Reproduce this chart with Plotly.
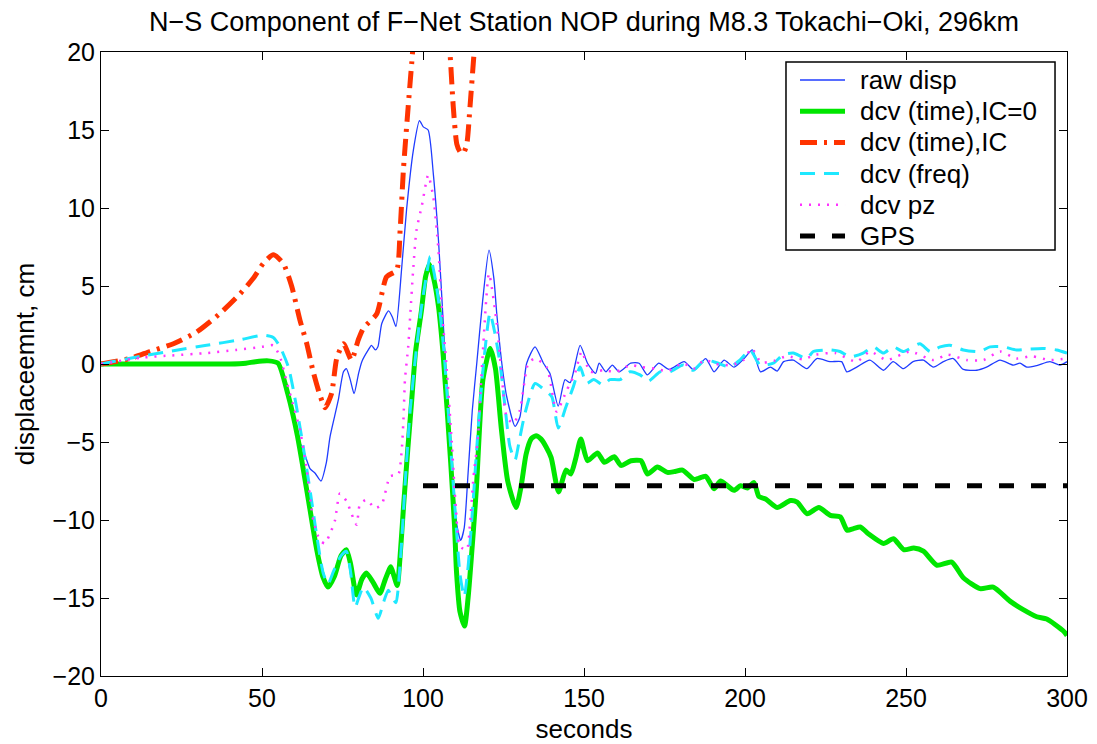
import plotly.graph_objects as go

# ---- data (seconds, displacement cm) ----
RAW_DISP = [(0,0),(20,0),(40,0),(50,0.15),(53,0.2),(55,0.0),(57,-1.0),(59,-2.8),(60.8,-4.6),(62.8,-5.5),
            (64.9,-6.7),(66.5,-7.0),(68.3,-7.5),(70,-6.3),(71.1,-4.7),(72.5,-3.4),(73.7,-2.3),(75.3,-0.5),
            (76.2,-0.3),(77.4,-1.0),(78.6,-1.9),(80,-0.6),(81,0.15),(83,0.9),(84,1.2),(85.2,0.9),(86,1.1),
            (87.2,2.6),(89.3,3.4),(90.5,3.0),(91.6,2.4),(93.4,6.2),(94.9,9.9),(97,13.7),(98.9,15.6),
            (100.1,15.2),(101.6,15.0),(103.2,12.2),(104.8,7.95),(106.3,2.6),(107.8,-3.0),(109.3,-7.5),
            (110.5,-10.3),(111.7,-11.3),(112.8,-10.5),(114,-7.0),(115.3,-3.0),(116.7,0.05),(118.5,4.0),
            (120.5,7.3),(122,5.5),(122.9,3.25),(124.5,0.0),(126,-2.1),(128.6,-4.0),(130.1,-3.4),(132.2,0.05),
            (134.8,1.1),(137.4,0.05),(139.4,-0.6),(142,-2.7),(144.1,-1.0),(145.7,-1.2),(148.8,1.2),(151.1,0.05),
            (153.6,-0.6),(154.7,0.05),(156.8,-0.5),(158.8,-0.07),(160.9,-0.5),(164.5,0.05),(167.1,0.05),
            (169.7,-0.7),(173.2,0.05),(176.4,-0.35),(181.1,0.15),(184.2,-0.4),(187.8,0.35),(190.4,-0.5),
            (193.5,0.25),(196.6,-0.2),(199.7,0.35),(202.3,0.9),(204.8,-0.5),(207.9,-0.2),(210,-0.45),(212,0.15),
            (215,0.25),(219.2,-0.3),(222.3,0.35),(226.4,0.15),(230,0.15),(231.6,-0.5),(234.7,-0.2),(238.8,0.25),
            (243,-0.4),(246,0.15),(249.2,-0.3),(252.2,0.15),(255.4,0.25),(258.5,-0.2),(261.6,0.15),(264.7,0.35),
            (267.8,-0.35),(272,-0.4),(275,-0.2),(279.2,0.25),(283.3,-0.07),(285.4,0.05),(287.5,-0.2),(290.6,-0.1),
            (294.7,0.15),(297.8,-0.07),(300,0.15)]

DCV_TIME_IC0 = [(0,0),(10,0),(20,0),(30,0),(40,0),(45,0.05),(48,0.15),(52,0.2),(55,0.05),(58,-1.9),(61,-4.6),
                (64.4,-8.7),(67,-11.9),(69,-13.7),(70.5,-14.3),(72.5,-13.6),(74.5,-12.3),(76.2,-11.9),(77.5,-12.8),
                (79.3,-14.8),(81,-13.8),(82.4,-13.4),(84.5,-14.0),(86.6,-14.7),(88.3,-13.8),(90,-13.0),(91,-13.6),
                (92,-14.2),(93,-12.0),(94,-9.0),(95.3,-5.4),(96.5,-2.3),(97.7,0.8),(99.5,3.4),(100.8,5.6),(102,6.4),
                (103.3,5.5),(104.8,3.7),(106.3,0.5),(108.6,-6.3),(109.8,-10.4),(110.4,-13.3),(111.5,-15.9),(112.9,-16.8),
                (114,-15.0),(115.5,-11.1),(116.6,-7.9),(118.6,-1.0),(120.9,1.0),(122.5,-0.3),(124.3,-4.1),(126.3,-7.5),
                (128.9,-9.2),(130.5,-7.8),(132,-5.8),(133.6,-4.8),(135.1,-4.6),(136.6,-4.8),(138.2,-5.3),(139.8,-6.0),
                (142.1,-8.2),(144.4,-6.8),(145.9,-7.05),(147.5,-6.0),(149,-4.8),(151.1,-6.2),(154.2,-5.7),(156.3,-6.3),
                (159.4,-5.95),(161.5,-6.5),(164.6,-6.2),(167.7,-6.2),(169.7,-7.05),(172.8,-6.6),(175.9,-6.95),(178,-6.9),
                (180.6,-6.8),(184.2,-7.4),(187.8,-7.2),(190.4,-8.0),(192.4,-7.5),(196.6,-8.1),(198.6,-7.8),(200.7,-7.95),
                (202.8,-7.6),(204.3,-8.5),(206.4,-8.65),(210,-9.2),(214.1,-8.75),(216.2,-8.85),(219.3,-9.6),(222.9,-9.2),
                (226.5,-9.7),(229.6,-9.8),(231.7,-10.65),(233.7,-10.55),(235.8,-10.45),(238.4,-10.9),(243,-11.5),
                (246.1,-11.2),(249.3,-11.9),(252.4,-11.8),(255.4,-12.0),(259.6,-12.9),(264.2,-12.7),(267.8,-13.7),
                (273,-14.4),(277.1,-14.3),(282.3,-15.2),(286.4,-15.75),(290.6,-16.2),(293.7,-16.35),(298.8,-17.1),(300,-17.4)]

DCV_TIME_IC = [(0,0),(9,0.35),(15.2,0.8),(22.5,1.3),(29.7,2.05),(37,3.25),(43.2,4.5),(47.3,5.5),(50.4,6.45),
               (53.5,7.0),(56.6,6.45),(59.2,5.0),(61.8,2.8),(63.9,1.3),(65.9,-0.5),(68,-2.0),(69.6,-2.8),(71.6,-1.9),
               (73.2,0.35),(75.3,1.3),(77.8,0.25),(79.9,1.55),(81.5,2.3),(85.6,3.2),(88.7,5.6),(91.8,6.0),(92.9,8.6),
               (93.9,12.4),(95.4,16.5),(96.5,19.3),(98,23),(101,27),(104,28),(106.5,25),(108.4,19.9),(109.4,16.5),
               (110.5,14.1),(111.5,13.6),(112.5,13.5),(113.6,14.1),(114.6,16.5),(115.7,19.5),(117,23),(119,28),(121,33)]

DCV_FREQ = [(0,0),(12.4,0.5),(22.5,0.85),(32.8,1.2),(43.2,1.55),(50.4,1.85),(53.5,1.7),(55.6,1.1),(58.2,-0.2),
            (60.5,-2.5),(62.8,-5.3),(65,-8.2),(67,-11.0),(69,-13.4),(70.5,-14.1),(72.2,-13.3),(74.5,-12.3),(76.2,-12.0),
            (77.5,-13.3),(78.9,-15.6),(80.2,-14.9),(81.5,-14.3),(83.8,-15.0),(86.1,-16.3),(87.7,-15.3),(89.2,-14.5),
            (90.5,-15.0),(91.6,-15.3),(93,-12.5),(94.5,-7.5),(96,-3.0),(97.7,0.5),(99.5,3.6),(101,5.6),(102.2,6.9),
            (103.5,5.8),(105,3.8),(106.5,0.8),(108.5,-5.0),(110,-9.5),(111.5,-13.5),(112.8,-14.9),(114,-13.0),
            (115.5,-9.0),(117,-4.5),(118.8,0.0),(120.8,3.25),(122.3,2.0),(123.9,0.05),(125.5,-2.8),(127,-5.3),
            (128.6,-6.15),(130,-4.8),(131.7,-3.15),(134.8,-1.25),(137.9,-1.7),(140,-2.1),(142,-4.1),(144.3,-2.8),
            (146.7,-1.45),(148.8,-0.2),(150.8,-1.25),(153,-1.0),(156,-1.35),(158,-1.0),(161.2,-1.0),(164.3,-0.5),
            (167.4,-0.7),(170,-1.1),(173.6,-0.5),(176.7,-0.5),(180.8,-0.07),(183.9,-0.4),(187.5,0.25),(191,0.1),
            (195.3,-0.2),(198.4,0.25),(201.6,0.9),(204.7,-0.07),(208.8,0.05),(211.9,0.6),(215,0.7),(219.2,0.35),
            (221.2,0.8),(226.4,0.9),(229.5,0.8),(232.6,0.45),(236.7,0.7),(239.8,1.1),(243,0.7),(246,1.1),(249.2,0.8),
            (254.3,1.3),(257.5,0.8),(260.6,1.1),(263.7,1.2),(267.8,0.9),(273,0.8),(276.1,1.1),(280.2,1.1),(284.3,0.9),
            (287.5,0.95),(292.6,1.0),(296.8,0.9),(300,0.7)]

DCV_PZ = [(0,0),(12.4,0.4),(22,0.55),(32.8,0.7),(42,0.9),(50,1.1),(53.5,1.2),(55.6,0.45),(57.5,-1.0),(59.5,-2.5),
          (61.8,-4.25),(63.9,-6.8),(65.9,-10.0),(68,-11.3),(69.5,-11.5),(71.6,-10.65),(72.7,-10.0),(74.2,-8.3),
          (76.3,-8.8),(77.8,-9.6),(79.4,-10.3),(80.4,-9.0),(82.5,-8.7),(85.1,-9.25),(87.2,-9.0),(89.8,-7.2),
          (92.3,-7.1),(93.4,-5.5),(94,-3.2),(94.4,-1.0),(95.4,1.1),(96,3.0),(97,6.2),(98,8.6),(99.6,10.1),
          (101.6,12.1),(103.2,10.7),(104.8,7.3),(105.8,3.7),(107.4,-0.4),(108.9,-4.9),(110.2,-9.2),(111.5,-11.7),
          (113.6,-11.9),(114.6,-10.2),(115.7,-7.2),(117,-4.9),(118.5,0.5),(120.5,5.8),(122.9,2.6),(124.4,-0.6),
          (126,-3.4),(128.1,-3.8),(130.1,-2.95),(132.7,0.05),(134.8,0.35),(138.4,-0.2),(141.5,-3.05),(144.6,-1.7),
          (147.2,-0.6),(149.3,0.8),(151.9,-0.5),(156,-0.4),(160,-0.5),(164.3,-0.07),(167.9,-0.2),(172,-0.3),
          (176,-0.45),(180.8,0.05),(184,-0.3),(187.5,0.25),(191,0.0),(195.8,-0.07),(199.5,0.25),(202.1,1.0),
          (205,0.1),(209,0.2),(213,0.5),(218,0.3),(222,0.6),(228,0.7),(234.7,0.15),(238.8,0.8),(244,0.25),
          (251.2,0.8),(258.5,0.25),(263,0.6),(268.9,0.25),(274,0.25),(279.2,0.8),(284.3,0.35),(289,0.5),
          (294.7,0.25),(300,0.35)]

GPS = [(100,-7.8),(300,-7.8)]

SERIES_NAMES = ["raw disp", "dcv (time),IC=0", "dcv (time),IC", "dcv (freq)", "dcv pz", "GPS"]
X_TICKS = [0, 50, 100, 150, 200, 250, 300]
Y_TICKS = [-20, -15, -10, -5, 0, 5, 10, 15, 20]

FONT = "Liberation Sans, Arial, Helvetica, sans-serif"

STYLES = [
    dict(color="#1f3cff", width=1.3),
    dict(color="#00e600", width=5),
    dict(color="#ff3300", width=5, dash="17px,7px,3px,7px"),
    dict(color="#1ee8ff", width=3, dash="15px,9px"),
    dict(color="#ff33ff", width=2.5, dash="2px,7px"),
    dict(color="black", width=5, dash="15px,17px"),
]
DATA = [RAW_DISP, DCV_TIME_IC0, DCV_TIME_IC, DCV_FREQ, DCV_PZ, GPS]

fig = go.Figure()
for name, pts, line in zip(SERIES_NAMES, DATA, STYLES):
    ln = dict(line)
    if name != "GPS":
        ln.update(shape="spline", smoothing=0.6)
    fig.add_trace(go.Scatter(x=[p[0] for p in pts], y=[p[1] for p in pts], mode="lines",
                             name=name, line=ln, showlegend=False))

# ---- legend box (MATLAB style), laid out in paper coordinates ----
L_X0, L_X1, L_Y0, L_Y1 = 0.7091, 0.9876, 0.6827, 0.9840
ROW_TOP, ROW_STEP = 0.9551, 0.0500
SAMPLE_X0, SAMPLE_X1, TEXT_X = 0.7236, 0.7702, 0.7836

shapes = [dict(type="rect", xref="paper", yref="paper", x0=L_X0, x1=L_X1, y0=L_Y0, y1=L_Y1,
               line=dict(color="black", width=1.5), fillcolor="white", layer="above")]
annotations = []
for i, (name, line) in enumerate(zip(SERIES_NAMES, STYLES)):
    yy = ROW_TOP - i * ROW_STEP
    shapes.append(dict(type="line", xref="paper", yref="paper", x0=SAMPLE_X0, x1=SAMPLE_X1, y0=yy, y1=yy,
                       line=line, layer="above"))
    annotations.append(dict(text=name, xref="paper", yref="paper", x=TEXT_X, y=yy, xanchor="left",
                            yanchor="middle", showarrow=False, font=dict(family=FONT, size=26, color="black")))

axis_common = dict(showline=True, linecolor="black", linewidth=1, mirror="ticks", ticks="inside",
                   ticklen=8, tickwidth=1, tickcolor="black", showgrid=False, zeroline=False,
                   automargin=False, tickfont=dict(family=FONT, size=25, color="black"))

fig.update_layout(
    width=1097, height=744,
    margin=dict(l=101, r=30, t=52, b=68, autoexpand=False),
    paper_bgcolor="white", plot_bgcolor="white",
    font=dict(family=FONT, size=25, color="black"),
    title=dict(text="N\u2212S Component of F\u2212Net Station NOP during M8.3 Tokachi\u2212Oki, 296km",
               x=0.5, xref="paper", xanchor="center", y=1 - 22 / 744, yanchor="middle",
               font=dict(family=FONT, size=27, color="black")),
    xaxis=dict(range=[0, 300], tickvals=X_TICKS,
               title=dict(text="seconds", standoff=8, font=dict(family=FONT, size=26)), **axis_common),
    yaxis=dict(range=[-20, 20], tickvals=Y_TICKS,
               title=dict(text="displaceemnt, cm", standoff=10, font=dict(family=FONT, size=26)), **axis_common),
    shapes=shapes,
    annotations=annotations,
    showlegend=False,
)

fig.write_html("out.html")
